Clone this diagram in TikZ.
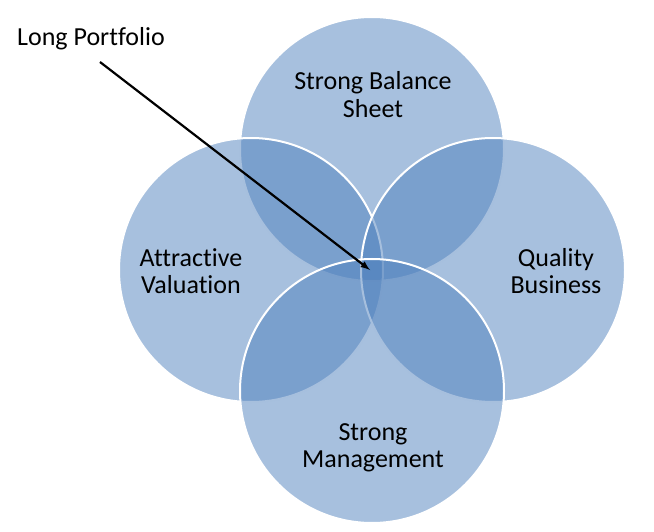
\documentclass[tikz,border=0pt]{standalone}
\usepackage{fontspec}
\setmainfont[Ligatures=NoCommon]{Carlito}
\usetikzlibrary{arrows}
\definecolor{ringblue}{HTML}{4F81BD}

\begin{document}
\begin{tikzpicture}[x=1pt, y=-1pt,
  ring/.style={fill=ringblue, fill opacity=0.5, draw=white, line width=2pt},
  tag/.style={align=center, inner sep=0pt, font=\fontsize{26}{27.5}\selectfont}]
\useasboundingbox (0, 0) rectangle (654, 532);

\draw[ring] (372, 149) circle (132);
\draw[ring] (251, 270) circle (132);
\draw[ring] (493, 270) circle (132);
\draw[ring] (372, 391) circle (132);

\node[tag](sheet) at (373, 94.5) {Strong Balance\\Sheet};
\node[tag](value) at (191, 271) {Attractive\\Valuation};
\node[tag](quality) at (556, 271) {Quality\\Business};
\node[tag](manage) at (373, 448) {Strong\\Management};

\node[tag, anchor=base west](long) at (17, 46) {Long Portfolio};

\coordinate (tail) at (100, 62);
\coordinate (core) at (370, 270);
\draw[-latex, line width=2.2pt] (tail) -- (core);

\end{tikzpicture}
\end{document}
